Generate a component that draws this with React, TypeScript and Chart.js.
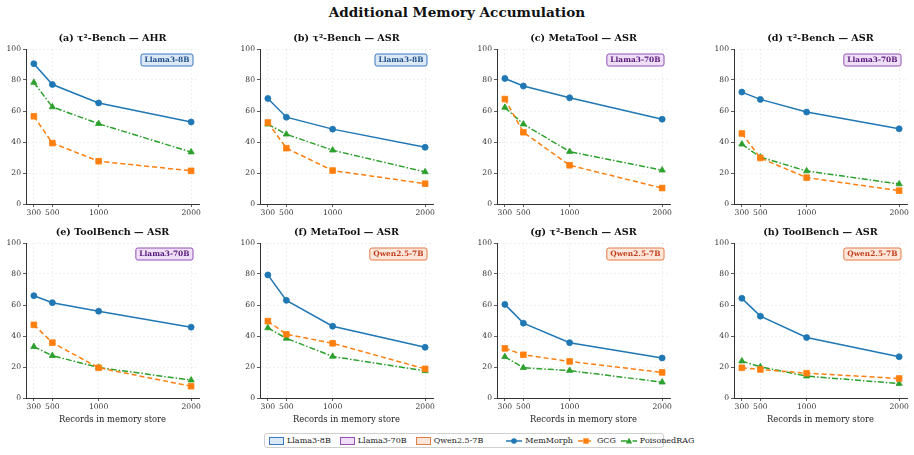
import React, { useEffect, useRef } from "react";
import { Chart, registerables } from "chart.js";

Chart.register(...registerables);

// Memory store sizes on the x axis
const recordCounts = [300, 500, 1000, 2000];
const xTickValues = [300, 500, 1000, 2000];
const yTickValues = [0, 20, 40, 60, 80, 100];

const panelTitles = [
  "(a) τ²-Bench — AHR",
  "(b) τ²-Bench — ASR",
  "(c) MetaTool — ASR",
  "(d) τ²-Bench — ASR",
  "(e) ToolBench — ASR",
  "(f) MetaTool — ASR",
  "(g) τ²-Bench — ASR",
  "(h) ToolBench — ASR",
];

const panelModels = [
  "Llama3-8B",
  "Llama3-8B",
  "Llama3-70B",
  "Llama3-70B",
  "Llama3-70B",
  "Qwen2.5-7B",
  "Qwen2.5-7B",
  "Qwen2.5-7B",
];

const memMorph = [
  [90.5, 77.1, 65.2, 52.9],
  [68.1, 56.0, 48.3, 36.6],
  [81.0, 76.1, 68.5, 54.7],
  [72.2, 67.5, 59.3, 48.5],
  [66.0, 61.5, 56.0, 45.7],
  [79.4, 63.0, 46.3, 32.7],
  [60.4, 48.3, 35.7, 25.8],
  [64.3, 52.8, 39.0, 26.6],
];

const gcg = [
  [56.6, 39.3, 27.6, 21.4],
  [52.6, 36.0, 21.6, 13.1],
  [67.7, 46.3, 25.0, 10.3],
  [45.5, 29.7, 17.0, 8.6],
  [47.2, 35.7, 19.5, 7.6],
  [49.6, 41.1, 35.3, 18.8],
  [32.0, 27.9, 23.6, 16.5],
  [19.5, 18.4, 16.0, 12.6],
];

const poisonedRag = [
  [78.4, 62.6, 51.8, 33.5],
  [51.5, 45.0, 34.7, 20.7],
  [62.3, 51.5, 33.8, 21.8],
  [38.6, 30.2, 21.3, 12.9],
  [33.1, 27.3, 19.7, 11.5],
  [45.2, 38.5, 26.8, 17.5],
  [26.6, 19.5, 17.7, 10.2],
  [23.8, 20.1, 14.1, 9.3],
];

const modelStyles: Record<string, { fill: string; edge: string; text: string }> = {
  "Llama3-8B": { fill: "#dbe8f6", edge: "#3b78c0", text: "#1f4f8a" },
  "Llama3-70B": { fill: "#eedff6", edge: "#9350b8", text: "#56157a" },
  "Qwen2.5-7B": { fill: "#fde7da", edge: "#e57b45", text: "#c23d1c" },
};

const methodStyles = [
  { name: "MemMorph", color: "#1f77b4", dash: [] as number[], point: "circle", radius: 3 },
  { name: "GCG", color: "#ff7f0e", dash: [5, 3], point: "rect", radius: 4 },
  { name: "PoisonedRAG", color: "#2ca02c", dash: [6, 2, 1.5, 2], point: "triangle", radius: 3.6 },
];

const FONT = "'DejaVu Serif', serif";

const PLOT_W = 173;
const PLOT_H = 155;
const PAD_L = 30;
const PAD_T = 24;
const PAD_R = 8;
const PAD_B = 30;

const columnLefts = [26, 260, 497, 734];
const rowTops = [49, 243];

function Panel({ index }: { index: number }) {
  const ref = useRef<HTMLCanvasElement | null>(null);
  const col = index % 4;
  const row = Math.floor(index / 4);
  const showXTitle = row === 1;

  useEffect(() => {
    if (!ref.current) return;
    const series = [memMorph[index], gcg[index], poisonedRag[index]];
    const model = panelModels[index];
    const badge = modelStyles[model];

    const decorations = {
      id: "panelDecorations",
      afterDraw(chart: any) {
        const { ctx, chartArea } = chart;
        ctx.save();
        // panel title
        ctx.fillStyle = "#111";
        ctx.font = `bold 9.6px ${FONT}`;
        ctx.textAlign = "center";
        ctx.textBaseline = "middle";
        ctx.fillText(panelTitles[index], (chartArea.left + chartArea.right) / 2, chartArea.top - 11);

        // model badge in the top-right corner
        ctx.font = `bold 7.4px ${FONT}`;
        const tw = ctx.measureText(model).width;
        const bw = tw + 7;
        const bh = 12;
        const bx = chartArea.right - 6 - bw;
        const by = chartArea.top + 5;
        ctx.beginPath();
        if ((ctx as any).roundRect) (ctx as any).roundRect(bx, by, bw, bh, 2);
        else ctx.rect(bx, by, bw, bh);
        ctx.fillStyle = badge.fill;
        ctx.fill();
        ctx.lineWidth = 1;
        ctx.strokeStyle = badge.edge;
        ctx.stroke();
        ctx.fillStyle = badge.text;
        ctx.fillText(model, bx + bw / 2, by + bh / 2 + 0.5);

        if (showXTitle) {
          ctx.fillStyle = "#222";
          ctx.font = `8.4px ${FONT}`;
          ctx.fillText("Records in memory store", (chartArea.left + chartArea.right) / 2, chartArea.bottom + 22);
        }
        ctx.restore();
      },
    };

    const chart = new Chart(ref.current, {
      type: "line",
      data: {
        datasets: methodStyles.map((m, k) => ({
          label: m.name,
          data: recordCounts.map((x, i) => ({ x, y: series[k][i] })),
          borderColor: m.color,
          backgroundColor: m.color,
          borderWidth: 1.5,
          borderDash: m.dash,
          pointStyle: m.point as any,
          pointRadius: m.radius,
          pointBorderWidth: 0.8,
          pointBorderColor: m.color,
          pointBackgroundColor: m.color,
          tension: 0,
          fill: false,
        })),
      },
      options: {
        animation: false,
        responsive: false,
        devicePixelRatio: 1,
        layout: { padding: { top: PAD_T, right: PAD_R, left: 0, bottom: 0 } },
        plugins: { legend: { display: false }, tooltip: { enabled: false } },
        scales: {
          x: {
            type: "linear",
            min: 215,
            max: 2085,
            afterBuildTicks: (scale: any) => {
              scale.ticks = xTickValues.map((v) => ({ value: v }));
            },
            afterFit: (scale: any) => {
              scale.height = PAD_B;
            },
            ticks: {
              autoSkip: false,
              maxRotation: 0,
              padding: 1,
              color: "#333",
              font: { family: FONT, size: 7.6 },
              callback: (v: any) => String(v),
            },
            grid: {
              color: "rgba(0,0,0,0.08)",
              tickColor: "#333",
              tickLength: 3,
              lineWidth: 0.8,
            },
            border: { display: true, color: "#333", width: 1, dash: [2, 2] },
          },
          y: {
            type: "linear",
            min: 0,
            max: 100,
            afterBuildTicks: (scale: any) => {
              scale.ticks = yTickValues.map((v) => ({ value: v }));
            },
            afterFit: (scale: any) => {
              scale.width = PAD_L;
            },
            ticks: {
              padding: 2,
              color: "#333",
              font: { family: FONT, size: 7.6 },
            },
            grid: {
              color: "rgba(0,0,0,0.08)",
              tickColor: "#333",
              tickLength: 3,
              lineWidth: 0.8,
            },
            border: { display: true, color: "#333", width: 1, dash: [2, 2] },
          },
        },
      },
      plugins: [decorations],
    });
    return () => chart.destroy();
  }, [index]);

  const w = PAD_L + PLOT_W + PAD_R;
  const h = PAD_T + PLOT_H + PAD_B;
  return (
    <canvas
      ref={ref}
      width={w}
      height={h}
      style={{
        position: "absolute",
        left: columnLefts[col] - PAD_L,
        top: rowTops[row] - PAD_T,
        width: w,
        height: h,
      }}
    />
  );
}

function PatchSwatch({ model }: { model: string }) {
  const s = modelStyles[model];
  return (
    <span
      style={{
        display: "inline-block",
        width: 13,
        height: 6,
        background: s.fill,
        border: `1px solid ${s.edge}`,
        marginRight: 3,
      }}
    />
  );
}

function LineSwatch({ idx }: { idx: number }) {
  const m = methodStyles[idx];
  const c = m.color;
  let marker: React.ReactNode = null;
  if (m.point === "circle") marker = <circle cx={8} cy={4} r={2.8} fill={c} />;
  else if (m.point === "rect") marker = <rect x={5.3} y={1.3} width={5.4} height={5.4} fill={c} />;
  else marker = <polygon points="8,0.8 11.2,6.4 4.8,6.4" fill={c} />;
  return (
    <svg width={16} height={8} style={{ marginRight: 3, display: "inline-block" }}>
      <line x1={0} y1={4} x2={16} y2={4} stroke={c} strokeWidth={1.5} strokeDasharray={m.dash.join(" ")} />
      {marker}
    </svg>
  );
}

function Legend() {
  const item = { display: "flex", alignItems: "center", marginRight: 9 } as React.CSSProperties;
  return (
    <div
      style={{
        position: "absolute",
        left: 264,
        top: 433,
        width: 400,
        height: 15,
        boxSizing: "border-box",
        border: "1px solid #cfcfcf",
        borderRadius: 3,
        background: "#fff",
        display: "flex",
        alignItems: "center",
        paddingLeft: 4,
        fontFamily: FONT,
        fontSize: 8,
        color: "#222",
        whiteSpace: "nowrap",
      }}
    >
      {["Llama3-8B", "Llama3-70B", "Qwen2.5-7B"].map((m, i) => (
        <span key={m} style={{ ...item, marginRight: i === 2 ? 23 : 9 }}>
          <PatchSwatch model={m} />
          {m}
        </span>
      ))}
      {methodStyles.map((m, i) => (
        <span key={m.name} style={{ ...item, marginRight: i === 2 ? 0 : 5 }}>
          <LineSwatch idx={i} />
          {m.name}
        </span>
      ))}
    </div>
  );
}

export default function App() {
  return (
    <div
      style={{
        position: "absolute",
        left: 0,
        top: 0,
        width: 914,
        height: 455,
        background: "#fff",
        overflow: "hidden",
      }}
    >
      <div
        style={{
          position: "absolute",
          left: 0,
          top: 4,
          width: 914,
          textAlign: "center",
          fontFamily: FONT,
          fontWeight: "bold",
          fontSize: 13.6,
          lineHeight: "16px",
          color: "#111",
        }}
      >
        Additional Memory Accumulation
      </div>
      {panelTitles.map((_, i) => (
        <Panel key={i} index={i} />
      ))}
      <Legend />
    </div>
  );
}
